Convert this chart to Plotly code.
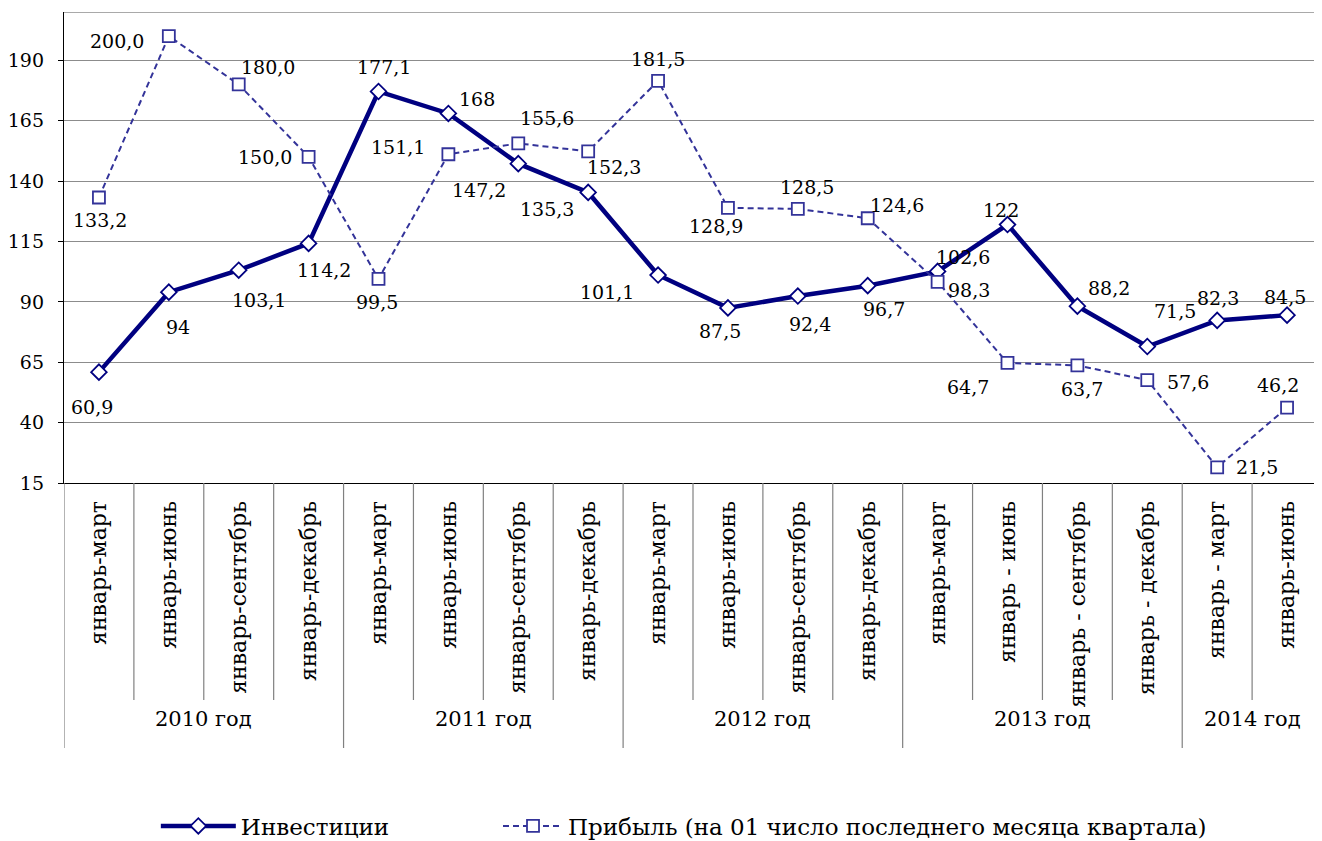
import plotly.graph_objects as go

categories = [
    "январь-март", "январь-июнь", "январь-сентябрь", "январь-декабрь",
    "январь-март", "январь-июнь", "январь-сентябрь", "январь-декабрь",
    "январь-март", "январь-июнь", "январь-сентябрь", "январь-декабрь",
    "январь-март", "январь - июнь", "январь - сентябрь", "январь - декабрь",
    "январь - март", "январь-июнь",
]
years = ["2010 год", "2011 год", "2012 год", "2013 год", "2014 год"]
year_sizes = [4, 4, 4, 4, 2]

investments = [60.9, 94, 103.1, 114.2, 177.1, 168, 147.2, 135.3, 101.1, 87.5,
               92.4, 96.7, 102.6, 122, 88.2, 71.5, 82.3, 84.5]
profit = [133.2, 200.0, 180.0, 150.0, 99.5, 151.1, 155.6, 152.3, 181.5, 128.9,
          128.5, 124.6, 98.3, 64.7, 63.7, 57.6, 21.5, 46.2]

y_ticks = [15, 40, 65, 90, 115, 140, 165, 190]

# label offsets in pixels (dx, dy; dy positive = down)
inv_off = [(-7, 35), (9, 35), (20, 30), (15, 27), (5, -24), (29, -14), (-39, 26),
           (-41, 17), (-51, 17), (-8, 23), (12, 28), (16, 23), (25, -14), (-7, -15),
           (32, -18), (28, -36), (1, -22), (-2, -18)]
prof_off = [(1, 22), (-52, 5), (29, -17), (-44, 0), (-2, 23), (-50, -7), (29, -25),
            (26, 16), (0, -22), (-12, 18), (9, -22), (29, -13), (31, 8), (-40, 24),
            (5, 24), (41, 2), (40, 0), (-9, -23)]

FONT = "DejaVu Serif"
INV_C = "#000080"
PROF_C = "#333399"

OFF = 8  # page body margin
PLOT_TOP, PLOT_BOT = 12, 483
PLOT_LEFT = 64
W, H = 1322 - OFF, 841 - OFF
PH = PLOT_BOT - PLOT_TOP
def py(pix):
    return (PLOT_BOT - pix) / PH

x = list(range(len(categories)))
fig = go.Figure()
fig.add_trace(go.Scatter(
    x=x, y=investments, mode="lines+markers", name="Инвестиции",
    line=dict(color=INV_C, width=4.5),
    marker=dict(symbol="diamond", size=12, color="white", line=dict(color=INV_C, width=1.8)),
    legend="legend",
))
fig.add_trace(go.Scatter(
    x=x, y=profit, mode="lines+markers", name="Прибыль (на 01 число последнего месяца квартала)",
    line=dict(color=PROF_C, width=2, dash="6px,4px"),
    marker=dict(symbol="square", size=12, color="white", line=dict(color=PROF_C, width=1.8)),
    legend="legend2",
))

def fmt_inv(v):
    return f"{v:g}".replace(".", ",")

def fmt_prof(v):
    return f"{v:.1f}".replace(".", ",")

ann = []
for i, v in enumerate(investments):
    dx, dy = inv_off[i]
    ann.append(dict(x=i, y=v, xref="x", yref="y", text=fmt_inv(v), showarrow=False,
                    xshift=dx, yshift=-dy, font=dict(family=FONT, size=19, color="black")))
for i, v in enumerate(profit):
    dx, dy = prof_off[i]
    ann.append(dict(x=i, y=v, xref="x", yref="y", text=fmt_prof(v), showarrow=False,
                    xshift=dx, yshift=-dy, font=dict(family=FONT, size=19, color="black")))

shapes = []
shapes.append(dict(type="line", xref="paper", yref="y", x0=0, x1=1, y0=210, y1=210,
                   line=dict(color="#8c8c8c", width=1.3)))
bounds = [0]
for s in year_sizes:
    bounds.append(bounds[-1] + s)
for k in range(len(categories) + 1):
    is_year = k in bounds
    shapes.append(dict(type="line", xref="x", yref="paper", x0=k - 0.5, x1=k - 0.5,
                       y0=0, y1=py(748 if is_year else 700),
                       line=dict(color="#808080", width=1.2)))
for j, yl in enumerate(years):
    cx = (bounds[j] + bounds[j + 1]) / 2 - 0.5
    ann.append(dict(x=cx, y=py(733), xref="x", yref="paper", text=yl, showarrow=False,
                    font=dict(family=FONT, size=21, color="black")))

fig.update_layout(
    width=W, height=H,
    margin=dict(l=PLOT_LEFT - OFF, r=0, t=PLOT_TOP - OFF, b=H - (PLOT_BOT - OFF), autoexpand=False),
    paper_bgcolor="white", plot_bgcolor="white",
    font=dict(family=FONT, color="black"),
    showlegend=True,
    annotations=ann, shapes=shapes,
    legend=dict(orientation="h", x=0.073, xanchor="left", y=py(826), yanchor="middle",
                font=dict(family=FONT, size=23), itemwidth=75, bgcolor="rgba(0,0,0,0)"),
    legend2=dict(orientation="h", x=0.345, xanchor="left", y=py(826), yanchor="middle",
                 font=dict(family=FONT, size=23), itemwidth=60, bgcolor="rgba(0,0,0,0)"),
)
fig.update_xaxes(
    range=[-0.5, len(categories) - 0.5], tickmode="array", tickvals=x, ticktext=categories,
    tickangle=-90, ticks="", showgrid=False, zeroline=False, automargin=False,
    showline=True, linecolor="black", linewidth=1.3,
    tickfont=dict(family=FONT, size=22, color="black"), ticklabelstandoff=8,
)
fig.update_yaxes(
    range=[15, 210], tickmode="array", tickvals=y_ticks, ticktext=[str(t) for t in y_ticks],
    showgrid=True, gridcolor="#8c8c8c", gridwidth=1.3, zeroline=False, automargin=False,
    showline=True, linecolor="black", linewidth=1.3,
    ticks="outside", ticklen=5, tickcolor="black",
    tickfont=dict(family=FONT, size=19, color="black"), ticklabelstandoff=10,
)

fig.write_html("out.html")
